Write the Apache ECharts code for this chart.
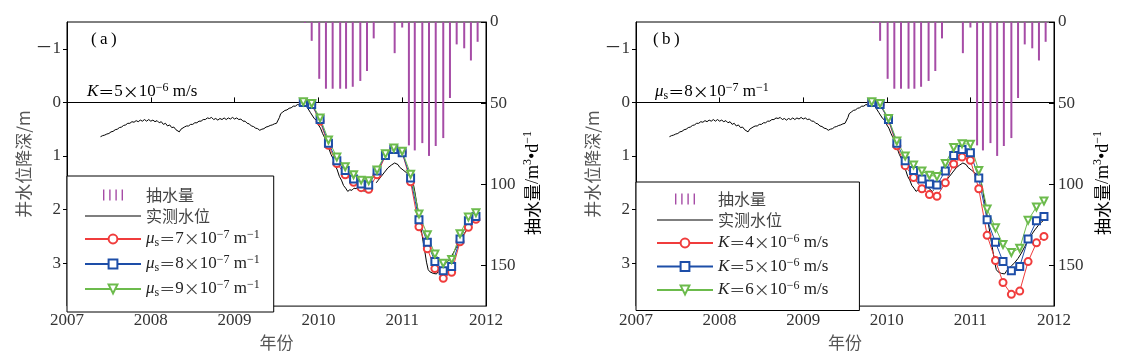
<!DOCTYPE html>
<html><head><meta charset="utf-8">
<script src="https://cdn.jsdelivr.net/npm/echarts@6/dist/echarts.min.js"></script>
<style>html,body{margin:0;padding:0;background:#fff}#c{width:1141px;height:356px}</style>
</head><body><div id="c"></div>
<script>
// ---------------- data ----------------
const yearTicks = [2007, 2008, 2009, 2010, 2011, 2012];
const depthTicks = [-1, 0, 1, 2, 3];
const pumpTicks = [0, 50, 100, 150];

// monthly pumping (m3/d)
const pumpT = [2009.84, 2009.92, 2010.01, 2010.09, 2010.17, 2010.26, 2010.33, 2010.41, 2010.50, 2010.58, 2010.66,
               2010.91, 2011.00, 2011.08, 2011.15, 2011.24, 2011.32, 2011.40, 2011.49, 2011.57, 2011.65, 2011.74, 2011.82, 2011.90];
const pumpQ = [0.6, 11.6, 35.0, 41.1, 41.1, 41.1, 41.1, 39.9, 36.3, 30.2, 10.1,
               19.2, 3.4, 76.0, 79.1, 74.6, 82.5, 76.4, 71.5, 46.8, 13.8, 16.2, 23.7, 12.2];

// observed drawdown (m); null = gap in record
const obsT = [2007.400,2007.425,2007.450,2007.475,2007.500,2007.525,2007.550,2007.575,2007.600,2007.625,2007.650,2007.675,2007.700,2007.725,2007.750,2007.775,2007.800,2007.825,2007.850,2007.875,2007.900,2007.925,2007.950,2007.975,
  2008.000,2008.025,2008.050,2008.075,2008.100,2008.125,2008.150,2008.175,2008.200,2008.225,2008.250,2008.275,2008.300,2008.320,2008.340,2008.360,2008.380,2008.400,2008.425,2008.450,2008.475,2008.500,2008.525,2008.550,2008.575,2008.600,2008.625,2008.650,2008.675,2008.700,2008.725,2008.750,2008.775,2008.800,2008.825,2008.850,2008.875,2008.900,2008.925,2008.950,2008.975,
  2009.000,2009.025,2009.050,2009.075,2009.100,2009.125,2009.150,2009.175,2009.200,2009.225,2009.250,2009.275,2009.300,2009.325,2009.350,2009.375,2009.400,2009.425,2009.450,2009.475,2009.500,2009.520,2009.535,2009.550,2009.575,2009.600,2009.625,2009.650,2009.675,2009.700,2009.725,2009.750,2009.775,2009.800,2009.825,2009.845,2009.865,2009.885,2009.905,2009.925,2009.950,2009.975,
  2010.000,2010.025,2010.050,2010.075,2010.100,2010.125,2010.150,2010.175,2010.200,2010.225,2010.250,2010.275,2010.300,2010.325,2010.350,2010.375,2010.400,2010.425,2010.450,2010.475,2010.500,2010.520,2010.545,2010.560,2010.620,
  2010.690,2010.710,2010.730,2010.750,2010.770,2010.790,2010.810,2010.830,2010.850,2010.870,2010.890,2010.910,2010.930,2010.950,2010.970,2010.990,
  2011.010,2011.030,2011.050,2011.070,2011.090,2011.110,2011.130,2011.150,2011.170,2011.190,2011.210,2011.230,2011.250,2011.270,2011.290,2011.310,2011.330,2011.350,2011.370,2011.390,2011.410,2011.430,2011.450,2011.470,2011.490,2011.510,2011.530,2011.550,2011.570,2011.590,2011.610,2011.630,2011.650,2011.670,2011.690,2011.710,2011.730,2011.750,2011.770,2011.790,2011.810,2011.830,2011.850,2011.870];
const obsH = [0.64,0.62,0.61,0.59,0.58,0.55,0.54,0.51,0.50,0.47,0.46,0.43,0.42,0.39,0.39,0.36,0.37,0.34,0.36,0.33,0.35,0.32,0.35,0.32,
  0.35,0.33,0.36,0.34,0.38,0.36,0.41,0.39,0.44,0.42,0.47,0.46,0.51,0.51,0.55,0.50,0.48,0.46,0.44,0.44,0.41,0.41,0.38,0.38,0.35,0.35,0.32,0.32,0.29,0.30,0.28,0.32,0.30,0.33,0.30,0.32,0.29,0.32,0.29,0.31,0.28,
  0.31,0.29,0.32,0.31,0.35,0.35,0.39,0.40,0.44,0.45,0.48,0.49,0.52,0.50,0.49,0.46,0.45,0.43,0.42,0.40,0.39,0.37,0.28,0.21,0.18,0.15,0.14,0.11,0.10,0.07,0.07,0.04,0.05,0.02,0.03,0.02,0.09,0.12,0.19,0.22,0.30,0.33,
  0.42,0.48,0.58,0.66,0.78,0.86,0.97,1.05,1.17,1.26,1.38,1.45,1.55,1.60,1.66,1.63,1.64,1.60,1.61,1.58,1.60,1.58,1.66,1.64,null,
  1.50,1.46,1.43,1.38,1.35,1.30,1.27,1.22,1.21,1.17,1.17,1.13,1.16,1.16,1.21,1.21,
  1.26,1.27,1.31,1.32,1.36,1.39,1.50,1.66,1.85,2.02,2.22,2.40,2.60,2.78,2.98,3.12,3.16,3.15,3.19,3.17,3.20,3.15,3.11,3.11,3.05,3.05,2.99,2.99,2.91,2.89,2.81,2.78,2.69,2.66,2.57,2.55,2.47,2.45,2.38,2.36,2.30,2.28,2.23,2.21];

// simulated drawdown (m)
const simT = [2009.82, 2009.92, 2010.02, 2010.12, 2010.22, 2010.32, 2010.42, 2010.51, 2010.60, 2010.70, 2010.80,
              2010.90, 2011.00, 2011.10, 2011.20, 2011.30, 2011.39, 2011.49, 2011.59, 2011.69, 2011.79, 2011.88];
// panel (a): K = 5e-6 m/s
const simMu7 = [0.00, 0.04, 0.35, 0.80, 1.14, 1.35, 1.49, 1.59, 1.62, 1.35, 0.99, 0.87, 0.93, 1.48, 2.32, 2.73, 3.10, 3.28, 3.17, 2.60, 2.33, 2.18];
const simMu8 = [0.00, 0.04, 0.32, 0.76, 1.09, 1.27, 1.43, 1.52, 1.54, 1.28, 0.99, 0.88, 0.94, 1.41, 2.19, 2.61, 2.97, 3.14, 3.06, 2.55, 2.21, 2.13];
const simMu9 = [-0.01, 0.02, 0.29, 0.70, 1.02, 1.20, 1.35, 1.45, 1.46, 1.26, 0.96, 0.85, 0.91, 1.34, 2.08, 2.47, 2.83, 3.00, 2.93, 2.45, 2.14, 2.06];
// panel (b): mu_s = 8e-7 1/m
const simK4 = [0.00, 0.04, 0.33, 0.81, 1.18, 1.40, 1.61, 1.72, 1.75, 1.50, 1.15, 1.02, 1.08, 1.61, 2.48, 2.95, 3.36, 3.58, 3.52, 2.97, 2.62, 2.50];
const simK5 = [0.00, 0.04, 0.32, 0.76, 1.09, 1.27, 1.43, 1.52, 1.54, 1.28, 0.99, 0.88, 0.94, 1.41, 2.19, 2.61, 2.97, 3.14, 3.06, 2.55, 2.21, 2.13];
const simK6 = [-0.01, 0.02, 0.30, 0.72, 1.00, 1.17, 1.28, 1.36, 1.38, 1.14, 0.84, 0.77, 0.78, 1.27, 1.99, 2.34, 2.65, 2.80, 2.72, 2.20, 1.95, 1.84];

// ---------------- styling ----------------
const SERIF = 'Liberation Serif';
const CJK = 'Noto Sans CJK SC';
const RED = '#f03c3c', BLUE = '#1d4ea8', GREEN = '#6cbb4c', PURPLE = '#a64ca6';

const rich = {
  n: {fontFamily: SERIF, fontSize: 17, lineHeight: 20, color: '#222'},
  i: {fontFamily: SERIF, fontStyle: 'italic', fontSize: 17, lineHeight: 20, color: '#222'},
  c: {fontFamily: CJK, fontSize: 16, lineHeight: 20, color: '#444'},
  sup: {fontFamily: SERIF, fontSize: 12, lineHeight: 11, verticalAlign: 'top', color: '#222'},
  sub: {fontFamily: SERIF, fontSize: 12, lineHeight: 11, verticalAlign: 'bottom', color: '#222'}
};
const LABELS = {
  '抽水量': '{c|抽水量}',
  '实测水位': '{c|实测水位}',
  mu7: '{i|μ}{sub|s}{c|＝}{n|7}{c|×}{n|10}{sup|−7}{n| m}{sup|−1}',
  mu8: '{i|μ}{sub|s}{c|＝}{n|8}{c|×}{n|10}{sup|−7}{n| m}{sup|−1}',
  mu9: '{i|μ}{sub|s}{c|＝}{n|9}{c|×}{n|10}{sup|−7}{n| m}{sup|−1}',
  K4: '{i|K}{c|＝}{n|4}{c|×}{n|10}{sup|−6}{n| m/s}',
  K5: '{i|K}{c|＝}{n|5}{c|×}{n|10}{sup|−6}{n| m/s}',
  K6: '{i|K}{c|＝}{n|6}{c|×}{n|10}{sup|−6}{n| m/s}'
};
const BAR_ICON = 'path://M0,0h1.4v11h-1.4zM6.2,0h1.4v11h-1.4zM12.4,0h1.4v11h-1.4zM18.6,0h1.4v11h-1.4z';
const LINE_ICON = 'path://M0,0h56v1h-56z';

const zip = (a, b) => a.map((t, k) => [t, b[k] === null ? '-' : b[k]]);

const grids = [
  {left: 67, top: 22, width: 419, height: 288},
  {left: 636, top: 22, width: 418, height: 288}
];

function xAxisFor(g) {
  return {
    gridIndex: g, type: 'value', min: 2007, max: 2012, interval: 1,
    name: '年份', nameLocation: 'middle', nameGap: 22,
    nameTextStyle: {fontFamily: CJK, fontSize: 17, color: '#555'},
    axisLine: {show: true, lineStyle: {color: '#000', width: 1}},
    axisTick: {show: true, inside: true, length: 5, lineStyle: {color: '#000'}},
    axisLabel: {fontFamily: SERIF, fontSize: 17, color: '#333', margin: 6, formatter: v => String(v)},
    splitLine: {show: false}
  };
}
function depthAxisFor(g) {
  return {
    gridIndex: g, type: 'value', min: -1.5, max: 3.8, inverse: true, position: 'left',
    name: '井水位降深/m', nameLocation: 'middle', nameGap: 34, nameRotate: 90,
    nameTextStyle: {fontFamily: CJK, fontSize: 17, color: '#555'},
    axisLine: {show: true, onZero: false, lineStyle: {color: '#000', width: 1}},
    axisTick: {show: true, inside: false, length: 4, customValues: depthTicks, lineStyle: {color: '#000'}},
    axisLabel: {fontFamily: SERIF + ',' + CJK, fontSize: 17, color: '#333', margin: 6, customValues: depthTicks,
      formatter: v => v < 0 ? '－' + Math.abs(v) : String(v)},
    splitLine: {show: false}
  };
}
function pumpAxisFor(g) {
  return {
    gridIndex: g, type: 'value', min: 0, max: 175, inverse: true, position: 'right',
    axisLine: {show: true, onZero: false, lineStyle: {color: '#000', width: 1}},
    axisTick: {show: true, inside: true, length: 5, customValues: pumpTicks, lineStyle: {color: '#000'}},
    axisLabel: {fontFamily: SERIF, fontSize: 17, color: '#333', margin: 4, customValues: pumpTicks},
    splitLine: {show: false}
  };
}

function simSeries(name, data, color, symbol, rot, xi, yi) {
  return {
    name, type: 'line', xAxisIndex: xi, yAxisIndex: yi, data: zip(simT, data),
    symbol, symbolSize: 7, symbolRotate: rot, showAllSymbol: true,
    lineStyle: {color, width: 1}, itemStyle: {color, borderColor: color, borderWidth: 1},
    z: 4
  };
}
function panelSeries(p, names, sims) {
  const xi = p, yd = p * 2, yp = p * 2 + 1;
  return [
    {name: '抽水量', type: 'bar', xAxisIndex: xi, yAxisIndex: yp, data: zip(pumpT, pumpQ),
      barWidth: 2, itemStyle: {color: PURPLE}, z: 1},
    {name: '实测水位', type: 'line', xAxisIndex: xi, yAxisIndex: yd, data: zip(obsT, obsH),
      symbol: 'none', connectNulls: false, lineStyle: {color: '#000', width: 1}, itemStyle: {color: '#000'}, z: 3},
    simSeries(names[0], sims[0], RED, 'emptyCircle', 0, xi, yd),
    simSeries(names[1], sims[1], BLUE, 'emptyRect', 0, xi, yd),
    simSeries(names[2], sims[2], GREEN, 'emptyTriangle', 180, xi, yd)
  ];
}

function legendFor(left, top, names, pad) {
  return {
    orient: 'vertical', left, top, padding: pad, itemGap: 5,
    itemWidth: 56, itemHeight: 11, selectedMode: false,
    backgroundColor: '#fff', borderColor: '#000', borderWidth: 1, borderRadius: 0,
    data: [{name: '抽水量', icon: BAR_ICON}, {name: '实测水位', icon: LINE_ICON}].concat(names),
    formatter: name => LABELS[name],
    textStyle: {rich, fontSize: 17}
  };
}

function richText(x, y, text, extra) {
  return Object.assign({type: 'text', x, y, style: {text, rich, verticalAlign: 'middle', align: 'left'}, z: 10}, extra || {});
}
const rightTitle = x => ({type: 'text', x, y: 183, rotation: Math.PI / 2,
  style: {text: '{t|抽水量}{u|/m}{s|3}{u|•d}{s|−1}', align: 'center', verticalAlign: 'middle',
    rich: {t: {fontFamily: CJK, fontSize: 17, lineHeight: 22, color: '#555'},
           u: {fontFamily: SERIF, fontSize: 18, lineHeight: 22, color: '#555'},
           s: {fontFamily: SERIF, fontSize: 12, lineHeight: 11, verticalAlign: 'top', color: '#555'}}}});

const option = {
  animation: false,
  backgroundColor: '#fff',
  grid: grids.map(g => Object.assign({show: true, borderColor: '#000', borderWidth: 1, backgroundColor: 'transparent'}, g)),
  xAxis: [xAxisFor(0), xAxisFor(1)],
  yAxis: [depthAxisFor(0), pumpAxisFor(0), depthAxisFor(1), pumpAxisFor(1)],
  legend: [
    legendFor(67, 176, ['mu7', 'mu8', 'mu9'], [11, 14, 13, 17]),
    legendFor(636, 182, ['K4', 'K5', 'K6'], [9, 31, 12, 20])
  ],
  series: panelSeries(0, ['mu7', 'mu8', 'mu9'], [simMu7, simMu8, simMu9])
    .concat(panelSeries(1, ['K4', 'K5', 'K6'], [simK4, simK5, simK6])),
  graphic: [
    richText(91, 40, '{n|(\u2009a\u2009)}'),
    richText(87, 92, '{i|K}{c|＝}{n|5}{c|×}{n|10}{sup|−6}{n| m/s}'),
    richText(653, 40, '{n|(\u2009b\u2009)}'),
    richText(655, 92, '{i|μ}{sub|s}{c|＝}{n|8}{c|×}{n|10}{sup|−7}{n| m}{sup|−1}'),
    rightTitle(533),
    rightTitle(1103)
  ]
};

const chart = echarts.init(document.getElementById('c'), null, {renderer: 'canvas'});
chart.setOption(option);
</script>
</body></html>
